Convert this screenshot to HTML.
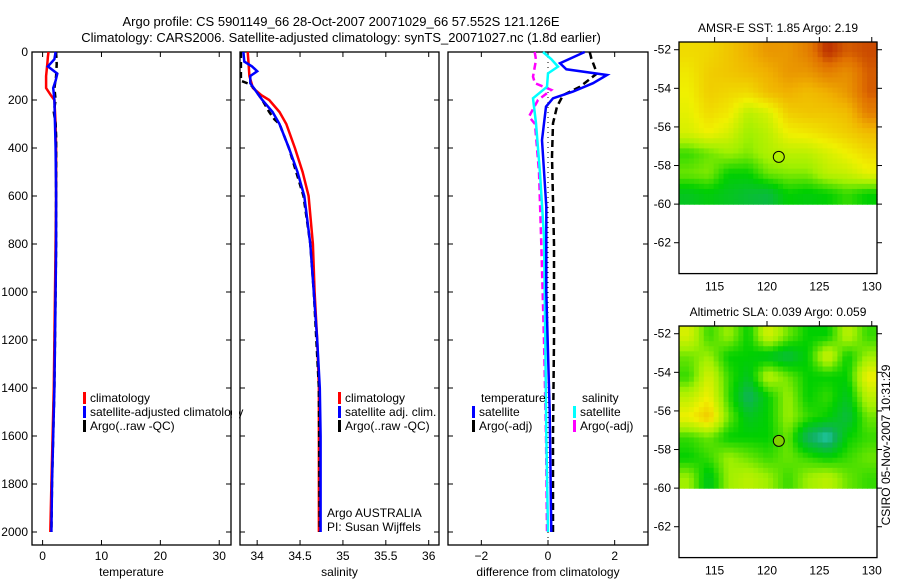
<!DOCTYPE html>
<html><head><meta charset="utf-8"><style>
body{margin:0;background:#fff;}
svg{display:block;font-family:"Liberation Sans",sans-serif;}
</style></head><body>
<svg id="c" width="900" height="580"></svg>
<script>
// ---- data ----
const tempClimDepth=[0,20,50,100,150,180,200,300,400,500,600,800,1000,1200,1400,1600,1800,2000];
const tempClim=[1.0,0.9,0.8,0.6,0.6,1.4,2.0,2.2,2.3,2.3,2.3,2.2,2.1,2.0,1.9,1.7,1.5,1.3];
const tempSatDepth=[0,30,60,90,120,150,200,300,400,600,800,1000,1200,1400,1600,1800,2000];
const tempSat=[2.2,2.0,0.9,2.5,2.2,1.8,2.0,2.1,2.2,2.3,2.3,2.2,2.1,2.0,1.8,1.6,1.5];
const tempArgoDepth=[0,50,100,150,200,250,300,350,400,600,800,1000,1400,1800,2000];
const tempArgo=[2.3,2.4,2.3,2.0,2.2,1.9,2.2,2.3,2.3,2.3,2.3,2.2,2.0,1.6,1.5];

const salClimDepth=[0,50,100,150,180,200,250,300,400,500,600,800,1000,1200,1400,1600,1800,2000];
const salClim=[33.89,33.9,33.91,33.95,34.05,34.14,34.26,34.34,34.44,34.53,34.6,34.65,34.67,34.7,34.72,34.72,34.72,34.72];
const salSatDepth=[0,40,60,80,100,130,150,200,250,300,400,500,600,800,1000,1200,1400,1600,1800,2000];
const salSat=[33.84,33.85,33.94,34.0,33.92,33.92,33.96,34.06,34.18,34.26,34.37,34.47,34.55,34.62,34.66,34.7,34.73,34.74,34.74,34.74];
const salArgoDepth=[0,60,120,135,150,200,250,280,300,400,600,800,1000,1400,2000];
const salArgo=[33.81,33.81,33.81,33.92,33.96,34.06,34.14,34.2,34.26,34.37,34.54,34.62,34.66,34.72,34.73];

const dTSatDepth=[0,47,72,96,130,165,193,228,367,644,1000,1500,2000];
const dTSat=[1.1,0.36,0.55,1.77,1.35,0.75,0.15,-0.06,-0.18,-0.05,-0.05,0.05,0.1];
const dTArgoDepth=[0,26,89,145,180,228,297,436,800,1200,1600,2000];
const dTArgo=[1.25,1.3,1.47,0.96,0.45,0.27,0.15,0.12,0.18,0.18,0.15,0.15];
const dSSatDepth=[0,30,61,89,145,193,297,505,770,1200,1600,2000];
const dSSat=[-0.15,0.1,0.3,0.0,-0.03,-0.45,-0.36,-0.24,-0.12,-0.08,-0.05,0.0];
const dSArgoDepth=[0,33,103,130,158,200,269,300,500,800,1200,1600,2000];
const dSArgo=[-0.4,-0.36,-0.45,-0.39,0.1,-0.3,-0.57,-0.39,-0.27,-0.2,-0.12,-0.06,-0.03];

const sstGrid=[
[0.65,0.66,0.7,0.75,0.8,0.8,0.85,0.95,0.9,0.92],
[0.62,0.68,0.7,0.72,0.75,0.8,0.8,0.85,0.82,0.9],
[0.6,0.68,0.66,0.65,0.72,0.75,0.72,0.75,0.8,0.9],
[0.58,0.65,0.62,0.5,0.55,0.68,0.7,0.7,0.72,0.85],
[0.55,0.6,0.55,0.45,0.5,0.6,0.62,0.65,0.68,0.72],
[0.35,0.4,0.45,0.42,0.48,0.5,0.5,0.55,0.6,0.65],
[0.4,0.42,0.3,0.3,0.4,0.42,0.42,0.5,0.52,0.58],
[0.25,0.28,0.25,0.22,0.2,0.3,0.28,0.3,0.35,0.3]];
const slaGrid=[
[0.55,0.35,0.45,0.3,0.55,0.4,0.3,0.3,0.5,0.35],
[0.4,0.45,0.3,0.3,0.25,0.2,0.3,0.55,0.3,0.45],
[0.35,0.55,0.35,0.25,0.5,0.4,0.3,0.3,0.3,0.6],
[0.5,0.6,0.35,0.15,0.3,0.45,0.3,0.35,0.25,0.5],
[0.6,0.7,0.4,0.25,0.3,0.45,0.35,0.3,0.2,0.4],
[0.35,0.4,0.3,0.3,0.3,0.4,0.15,0.05,0.3,0.35],
[0.3,0.35,0.45,0.4,0.35,0.4,0.35,0.3,0.35,0.4],
[0.45,0.25,0.45,0.5,0.45,0.35,0.45,0.5,0.4,0.35]];
const depthTicks=[0,200,400,600,800,1000,1200,1400,1600,1800,2000];
const tempTicks=[0,10,20,30];
const salTicks=[34,34.5,35,35.5,36];
const diffTicks=[-2,0,2];
const lonTicks=[115,120,125,130];
const latTicks=[-52,-54,-56,-58,-60,-62];

// ---- helpers ----
const S=document.getElementById('c');const NS='http://www.w3.org/2000/svg';
function el(t,a,p){const e=document.createElementNS(NS,t);for(const k in a)e.setAttribute(k,a[k]);(p||S).appendChild(e);return e;}
function txt(x,y,s,anchor,size,name){const e=el('text',{x:x,y:y,'text-anchor':anchor||'start','font-size':size||12,fill:'#000'});e.textContent=s;return e;}
const yD=d=>52+d*0.24;
function panel(x0,x1,xmin,xmax,ticks,xlabel,name,leftLabels){
  const sx=v=>x0+(v-xmin)/(xmax-xmin)*(x1-x0);
  const r=el('rect',{x:x0,y:52,width:x1-x0,height:493,fill:'none',stroke:'#000','stroke-width':1.3});
  
  depthTicks.forEach(d=>{const y=yD(d);
    el('line',{x1:x0,x2:x0+5,y1:y,y2:y,stroke:'#000'});el('line',{x1:x1,x2:x1-5,y1:y,y2:y,stroke:'#000'});
    if(leftLabels)txt(x0-4,y+4,String(d),'end',12,'depth-tick-label');});
  ticks.forEach(v=>{const x=sx(v);el('line',{x1:x,x2:x,y1:545,y2:540,stroke:'#000'});el('line',{x1:x,x2:x,y1:52,y2:57,stroke:'#000'});
    txt(x,560,String(v).replace('-','\u2212'),'middle',12,'x-tick-label');});
  txt((x0+x1)/2,576,xlabel,'middle',12,'x-axis-title');
  return sx;
}
function line(sx,vals,depths,color,dash,name){
  const pts=vals.map((v,i)=>sx(v).toFixed(1)+','+yD(depths[i]).toFixed(1)).join(' ');
  const p=el('polyline',{points:pts,fill:'none',stroke:color,'stroke-width':2.5,'stroke-dasharray':dash||'none'});
  
}
function legend(x,y,color,label,name){const r=el('rect',{x:x,y:y-10,width:3,height:12,fill:color});txt(x+7,y,label,'start',12,name);}

txt(341,26,'Argo profile: CS 5901149_66 28-Oct-2007 20071029_66 57.552S 121.126E','middle',13,'figure-title-line1');
txt(341,42,'Climatology: CARS2006. Satellite-adjusted climatology: synTS_20071027.nc (1.8d earlier)','middle',13,'figure-title-line2');

const sT=panel(32,231,-1.8,32,tempTicks,'temperature','temperature-panel',true);
line(sT,tempClim,tempClimDepth,'#f00',null,'temp-climatology-line');
line(sT,tempArgo,tempArgoDepth,'#000','6,4','temp-argo-line');
line(sT,tempSat,tempSatDepth,'#00f',null,'temp-satellite-line');
legend(83,402,'#f00','climatology','legend-climatology');
legend(83,416,'#00f','satellite-adjusted climatology','legend-satellite');
legend(83,430,'#000','Argo(..raw -QC)','legend-argo');

const sS=panel(240,439,33.8,36.12,salTicks,'salinity','salinity-panel',false);
line(sS,salClim,salClimDepth,'#f00',null,'sal-climatology-line');
line(sS,salArgo,salArgoDepth,'#000','6,4','sal-argo-line');
line(sS,salSat,salSatDepth,'#00f',null,'sal-satellite-line');
legend(338,402,'#f00','climatology','legend-climatology-sal');
legend(338,416,'#00f','satellite adj. clim.','legend-satellite-sal');
legend(338,430,'#000','Argo(..raw -QC)','legend-argo-sal');
txt(327,517,'Argo AUSTRALIA','start',12,'credit-argo-australia');
txt(327,531,'PI: Susan Wijffels','start',12,'credit-pi');
el('rect',{x:232,y:395,width:7,height:25,fill:'#fff'});

const sD=panel(448,648,-3,3,diffTicks,'difference from climatology','difference-panel',false);
el('line',{x1:sD(0),x2:sD(0),y1:52,y2:545,stroke:'#000','stroke-dasharray':'1,4'});
line(sD,dTArgo,dTArgoDepth,'#000','7,4','diff-temp-argo-line');
line(sD,dSArgo,dSArgoDepth,'#f0f','7,4','diff-sal-argo-line');
line(sD,dSSat,dSSatDepth,'#0ff',null,'diff-sal-satellite-line');
line(sD,dTSat,dTSatDepth,'#00f',null,'diff-temp-satellite-line');
txt(481,402,'temperature','start',12,'legend-heading-temperature');
txt(582,402,'salinity','start',12,'legend-heading-salinity');
legend(472,416,'#00f','satellite','legend-diff-temp-sat');
legend(472,430,'#000','Argo(-adj)','legend-diff-temp-argo');
legend(573,416,'#0ff','satellite','legend-diff-sal-sat');
legend(573,430,'#f0f','Argo(-adj)','legend-diff-sal-argo');

// ---- maps ----
const stops=[[0,[48,216,224]],[0.15,[16,176,96]],[0.3,[0,208,0]],[0.45,[160,240,0]],[0.6,[240,240,0]],[0.75,[240,176,0]],[0.88,[224,112,0]],[1,[160,0,0]]];
function cmap(v){for(let i=1;i<stops.length;i++){if(v<=stops[i][0]){const a=stops[i-1],b=stops[i],t=(v-a[0])/(b[0]-a[0]);return 'rgb('+a[1].map((c,k)=>Math.round(c+(b[1][k]-c)*t)).join(',')+')';}}return 'rgb(160,0,0)';}
function sample(grid,r,c){ // bilinear in cell-centre coordinates
  const R=grid.length,C=grid[0].length;
  r=Math.max(0,Math.min(R-1,r));c=Math.max(0,Math.min(C-1,c));
  const r0=Math.floor(r),c0=Math.floor(c),r1=Math.min(R-1,r0+1),c1=Math.min(C-1,c0+1),fr=r-r0,fc=c-c0;
  return grid[r0][c0]*(1-fr)*(1-fc)+grid[r0][c1]*(1-fr)*fc+grid[r1][c0]*fr*(1-fc)+grid[r1][c1]*fr*fc;
}
function map(top,grid,title,name,circleFill){
  const x0=679,x1=877,lonMin=111.6,lonMax=130.5,latTop=-51.6,ppd=19.3;
  const sx=v=>x0+(v-lonMin)/(lonMax-lonMin)*(x1-x0);
  const sy=v=>top+(latTop-v)*ppd;
  const bottom=sy(-63.6);
  const g=el('g',{});
  const rows=grid.length,cols=grid[0].length,sub=4,R=rows*sub,C=cols*sub,cw=(x1-x0)/C,ch=(sy(-60)-top)/R;
  for(let i=0;i<R;i++)for(let j=0;j<C;j++){
    const v=sample(grid,(i+0.5)/sub-0.5,(j+0.5)/sub-0.5);
    const c=el('rect',{x:(x0+j*cw).toFixed(2),y:(top+i*ch).toFixed(2),width:(cw+0.6).toFixed(2),height:(ch+0.6).toFixed(2),fill:cmap(v)},g);
    }
  const f=el('rect',{x:x0,y:top,width:x1-x0,height:bottom-top,fill:'none',stroke:'#000','stroke-width':1.3});
  
  lonTicks.forEach(v=>{const x=sx(v);el('line',{x1:x,x2:x,y1:top,y2:top-5,stroke:'#000'});txt(x,bottom+17,String(v),'middle',12,'lon-tick-label');});
  latTicks.forEach(v=>{const y=sy(v);el('line',{x1:x0,x2:x0-5,y1:y,y2:y,stroke:'#000'});el('line',{x1:x1,x2:x1+5,y1:y,y2:y,stroke:'#000'});
    txt(x0-8,y+4,String(v),'end',12,'lat-tick-label');});
  txt((x0+x1)/2,top-10,title,'middle',12,name+'-title');
  const c=el('circle',{cx:sx(121.126),cy:sy(-57.552),r:5.5,fill:circleFill,stroke:'#000','stroke-width':1});
  
}
map(42,sstGrid,'AMSR-E SST: 1.85 Argo: 2.19','sst-map','none');
map(326,slaGrid,'Altimetric SLA: 0.039 Argo: 0.059','sla-map','#80d000');
const ts=txt(0,0,'CSIRO 05-Nov-2007 10:31:29','middle',12,'timestamp');
ts.setAttribute('transform','translate(890,445) rotate(-90)');
</script>
</body></html>
